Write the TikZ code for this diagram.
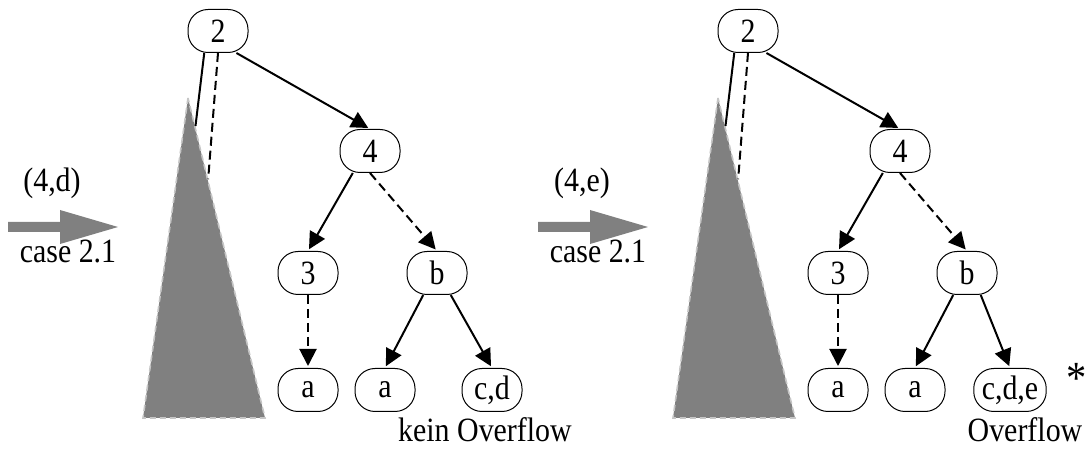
\documentclass[tikz,border=0pt]{standalone}
\usepackage{fontspec}
\setmainfont{Liberation Serif}[FakeStretch=0.88]
\usetikzlibrary{arrows.meta,positioning,calc}

\begin{document}
\begin{tikzpicture}[x=1pt,y=1pt,>={Triangle[length=17pt,width=17pt]},shorten >=2pt,
                    font=\fontsize{34}{40}\selectfont,on grid,
                    tree node/.style={draw,line width=1pt,rounded corners=20pt,
                      minimum width=60pt,minimum height=43pt,inner xsep=8pt,inner ysep=2pt},
                    msg/.style={anchor=base,inner sep=1pt},
                    link/.style={line width=2pt},
                    dashed link/.style={line width=2pt,dash pattern=on 9pt off 5pt},
                    sub tree/.style={fill=gray,draw=gray!45,line width=1.6pt,dash pattern=on 6pt off 4pt}]
  \useasboundingbox (0,0) rectangle (1088,450);

  % left half
  \fill[gray] (8,218) -- (60,218) -- (60,206) -- (118,223) -- (60,240) -- (60,228) -- (8,228) -- cycle;
  \node (lin) at (52,258) [msg] {(4,d)};
  \node (lcase) at (68,187) [msg] {case 2.1};

  \coordinate (ltop) at (188,352);
  \coordinate (lbl) at (143,32);
  \coordinate (lbr) at (265,32);
  \draw[sub tree] (ltop) -- (lbl) -- (lbr) -- cycle;

  \node[tree node] (l2) at (218,419) {2};
  \node[tree node] (l4) [below right=120pt and 152pt of l2] {4};
  \node[tree node] (l3) [below left=122pt and 62pt of l4] {3};
  \node[tree node] (lb) [below right=122pt and 67pt of l4] {b};
  \node[tree node] (la1) [below=117pt of l3] {a};
  \node[tree node] (la2) [below left=117pt and 52pt of lb] {a};
  \node[tree node] (lcd) [below right=117pt and 55pt of lb] {c,d};
  \node (lmsg) at (485,8) [msg] {kein Overflow};

  \coordinate (ls) at ($(ltop)!0.094!(lbr)$);
  \coordinate (ld) at ($(ltop)!0.26!(lbr)$);
  \draw[link] (l2.-122) -- (ls);
  \draw[dashed link] (l2.south) -- (ld);
  \draw[link,->] (l2.-50) -- (l4.north);
  \draw[link,->] (l4.-128) -- (l3.north);
  \draw[dashed link,->] (l4.south) -- (lb.north);
  \draw[dashed link,->] (l3.south) -- (la1.north);
  \draw[link,->] (lb.-122) -- (la2.north);
  \draw[link,->] (lb.-58) -- (lcd.north);

  % right half
  \fill[gray] (538,218) -- (590,218) -- (590,206) -- (648,223) -- (590,240) -- (590,228) -- (538,228) -- cycle;
  \node (rin) at (582,258) [msg] {(4,e)};
  \node (rcase) at (598,187) [msg] {case 2.1};

  \coordinate (rtop) at (718,352);
  \coordinate (rbl) at (673,32);
  \coordinate (rbr) at (795,32);
  \draw[sub tree] (rtop) -- (rbl) -- (rbr) -- cycle;

  \node[tree node] (r2) at (748,419) {2};
  \node[tree node] (r4) [below right=120pt and 152pt of r2] {4};
  \node[tree node] (r3) [below left=122pt and 62pt of r4] {3};
  \node[tree node] (rb) [below right=122pt and 67pt of r4] {b};
  \node[tree node] (ra1) [below=117pt of r3] {a};
  \node[tree node] (ra2) [below left=117pt and 52pt of rb] {a};
  \node[tree node] (rcde) [below right=117pt and 43pt of rb] {c,d,e};
  \node (rstar) at (1077,56) [msg,font=\fontsize{46}{50}\selectfont] {*};
  \node (rmsg) at (1025,8) [msg] {Overflow};

  \coordinate (rs) at ($(rtop)!0.094!(rbr)$);
  \coordinate (rd) at ($(rtop)!0.26!(rbr)$);
  \draw[link] (r2.-122) -- (rs);
  \draw[dashed link] (r2.south) -- (rd);
  \draw[link,->] (r2.-50) -- (r4.north);
  \draw[link,->] (r4.-128) -- (r3.north);
  \draw[dashed link,->] (r4.south) -- (rb.north);
  \draw[dashed link,->] (r3.south) -- (ra1.north);
  \draw[link,->] (rb.-122) -- (ra2.north);
  \draw[link,->] (rb.-58) -- (rcde.north);
\end{tikzpicture}
\end{document}
